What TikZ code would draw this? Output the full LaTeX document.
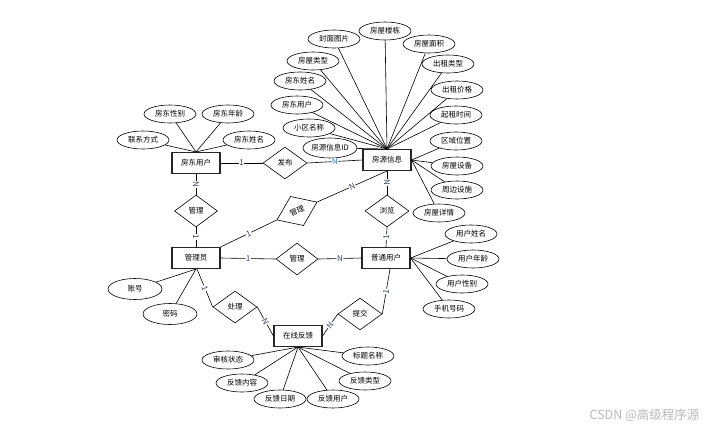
\documentclass[tikz,border=0pt]{standalone}
\usepackage{fontspec}
\setmainfont{Noto Sans CJK SC}
\usepackage{tikz}
\usetikzlibrary{positioning,shapes.geometric}
\definecolor{cardc}{RGB}{55,65,85}
\definecolor{cardn}{RGB}{30,120,190}

\begin{document}
\begin{tikzpicture}[x=1pt,y=-1pt]%[pixel grid of the sketch]
    \tikzstyle{ent} = [rectangle, draw=black!85, line width=1.1pt, fill=white,
    minimum width=48pt, minimum height=21pt, inner sep=0pt, font=\fontsize{7.5}{9}\selectfont]
    \tikzstyle{rel} = [diamond, draw, line width=0.6pt, fill=white, minimum width=44pt,
    minimum height=32pt, inner sep=0pt, font=\fontsize{7.5}{9}\selectfont]
    \tikzstyle{att} = [ellipse, draw, line width=0.6pt, fill=white, minimum width=52pt,
    minimum height=18pt, inner sep=0pt, font=\fontsize{7.5}{9}\selectfont]
    \tikzstyle{card} = [sloped, fill=white, inner sep=0.6pt, text=cardc, font=\fontsize{8}{9}\selectfont]
    \tikzstyle{link} = [line width=0.6pt]
    \useasboundingbox (0,0) rectangle (712,429);
    % entities
    \node[ent] (landlord) at (196,163) {房东用户};
    \node[ent] (house) at (387,160) {房源信息};
    \node[ent] (admin) at (196,258) {管理员};
    \node[ent] (user) at (386,258) {普通用户};
    \node[ent] (fb) at (298,336) {在线反馈};
    % relations
    \node[rel] (pub) at (285,163) {发布};
    \node[rel, minimum width=43pt] (mgland) at (196,211) {管理};
    \node[rel, rotate=24] (mghouse) at (297,211) {管理};
    \node[rel, minimum width=42pt] (mguser) at (297,259) {管理};
    \node[rel] (browse) at (387,211) {浏览};
    \node[rel] (handle) at (235,307) {处理};
    \node[rel] (submit) at (360,314) {提交};
    % landlord attributes
    \node[att] (lsex) at (170,114) {房东性别};
    \node[att] (lage) at (228,114) {房东年龄};
    \node[att] (lcontact) at (143,140) {联系方式};
    \node[att] (lname) at (249,140) {房东姓名};
    % house attributes
    \node[att] (hcover) at (334,39) {封面图片};
    \node[att] (hbuild) at (385,31) {房屋楼栋};
    \node[att] (harea) at (429,44) {房屋面积};
    \node[att] (hrtype) at (448,64) {出租类型};
    \node[att] (htype) at (313,61) {房屋类型};
    \node[att] (hlname) at (300,81) {房东姓名};
    \node[att] (hluser) at (297,105) {房东用户};
    \node[att] (hcomm) at (309,128) {小区名称};
    \node[att, minimum width=54pt, minimum height=20pt] (hid) at (330,148) {房源信息ID};
    \node[att] (hprice) at (457,90) {出租价格};
    \node[att] (hstart) at (456,115) {起租时间};
    \node[att] (hloc) at (456,141) {区域位置};
    \node[att] (hequip) at (457,166) {房屋设备};
    \node[att] (hnear) at (457,190) {周边设施};
    \node[att] (hdetail) at (439,213) {房屋详情};
    % user attributes
    \node[att] (uname) at (471,234) {用户姓名};
    \node[att] (uage) at (473,259) {用户年龄};
    \node[att] (usex) at (462,284) {用户性别};
    \node[att] (uphone) at (449,309) {手机号码};
    % admin attributes
    \node[att, minimum width=54pt, minimum height=21pt] (aacc) at (135,289) {账号};
    \node[att, minimum width=54pt, minimum height=21pt] (apwd) at (170,314) {密码};
    % feedback attributes
    \node[att] (fstate) at (228,360) {审核状态};
    \node[att] (ftitle) at (368,356) {标题名称};
    \node[att] (fcont) at (242,383) {反馈内容};
    \node[att] (fkind) at (365,381) {反馈类型};
    \node[att] (fdate) at (280,399) {反馈日期};
    \node[att] (fuser) at (333,399) {反馈用户};
    % attribute links
    \foreach \a in {lsex,lage,lcontact,lname}
      \draw[link] (\a) -- (landlord.north);
    \foreach \a in {hcover,hbuild,harea,hrtype,htype,hlname,hluser,hcomm,hid,hprice,hstart}
      \draw[link] (\a) -- (house.north);
    \foreach \a in {hloc,hequip,hnear,hdetail}
      \draw[link] (\a) -- (house.east);
    \foreach \a in {uname,uage,usex,uphone}
      \draw[link] (\a) -- (user.east);
    \foreach \a in {aacc,apwd}
      \draw[link] (\a) -- (admin.south);
    \foreach \a in {fstate,ftitle,fcont,fkind,fdate,fuser}
      \draw[link] (\a) -- (fb.south);
    % relation links
    \draw[link] (landlord.east) -- node[card]{1} (pub.west);
    \draw[link] (pub.east) -- node[card, text=cardn]{N} (house.west);
    \draw[link] (landlord.south) -- node[card]{N} (mgland.north);
    \draw[link] (mgland.south) -- node[card]{1} (admin.north);
    \draw[link] (admin.north east) -- node[card]{1} (mghouse.west);
    \draw[link] (mghouse.east) -- node[card]{N} (house.south);
    \draw[link] (house.south) -- node[card]{N} (browse.north);
    \draw[link] (browse.south) -- node[card]{1} (user.north);
    \draw[link] (admin.east) -- node[card]{1} (mguser.west);
    \draw[link] (mguser.east) -- node[card]{N} (user.west);
    \draw[link] ([xshift=1pt]admin.south) -- node[card]{1} (handle.west);
    \draw[link] (handle.east) -- node[card]{N} (fb.west);
    \draw[link] ([xshift=4pt]user.south) -- node[card]{1} (submit.east);
    \draw[link] (submit.west) -- node[card]{N} (fb.east);
    \node[text=gray!55, font=\fontsize{12.5}{14}\selectfont, anchor=east] (mark) at (703,415) {CSDN @高级程序源};
  \end{tikzpicture}
\end{document}
